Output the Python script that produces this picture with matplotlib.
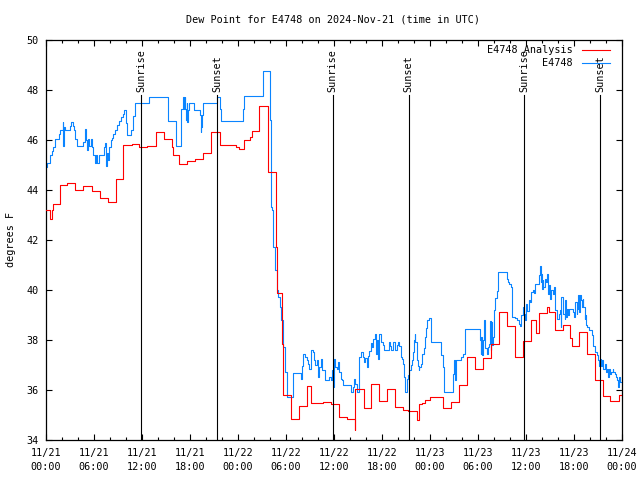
import matplotlib
matplotlib.use("Agg")
import matplotlib.pyplot as plt
from matplotlib.ticker import MultipleLocator

plt.rcParams['font.family'] = ['DejaVu Sans Mono']

# ---- data (hours since 11/21 00:00 UTC, degrees F) ----
red_hours = [0.0, 0.5, 0.75, 0.83, 1.75, 2.58, 3.67, 4.67, 5.71, 6.75, 7.8, 8.75, 9.58,
             10.75, 11.67, 12.58, 13.75, 14.75, 15.75, 15.83, 16.58, 17.67, 18.67, 19.67,
             20.6, 21.7, 23.75, 24.08, 24.75, 25.5, 25.75, 26.67, 27.75, 28.75, 28.83,
             29.54, 29.62, 30.6, 31.58, 32.67, 33.17, 34.67, 35.58, 36.58, 37.67, 38.6,
             38.67, 39.7, 40.67, 41.58, 42.58, 43.58, 44.58, 45.25, 46.33, 46.67, 47.0,
             47.42, 48.0, 49.58, 50.6, 51.67, 52.58, 53.58, 54.58, 55.58, 56.58, 57.67,
             58.67, 59.67, 60.58, 61.25, 61.67, 62.58, 62.92, 63.67, 64.67, 65.5, 65.75,
             66.58, 67.58, 68.58, 69.58, 70.5, 71.6, 72.0]
red_vals = [43.18, 42.81, 43.18, 43.42, 44.17, 44.25, 43.98, 44.14, 43.95, 43.66, 43.50,
            44.41, 45.77, 45.81, 45.69, 45.74, 46.30, 46.02, 45.69, 45.37, 45.02, 45.13,
            45.23, 45.45, 46.30, 45.77, 45.69, 45.61, 45.98, 46.09, 46.35, 47.34, 44.69,
            41.71, 39.89, 37.85, 35.78, 34.82, 35.34, 36.17, 35.47, 35.53, 35.42, 34.91,
            34.83, 34.40, 36.03, 35.29, 36.25, 35.55, 36.03, 35.31, 35.18, 35.15, 34.78,
            35.42, 35.47, 35.58, 35.71, 35.26, 35.50, 36.20, 37.31, 36.83, 37.29, 37.85,
            39.10, 38.57, 37.33, 37.95, 38.81, 38.27, 39.07, 39.31, 39.13, 38.41, 38.58,
            38.09, 37.74, 38.30, 37.42, 36.41, 35.74, 35.57, 35.80, 35.80]

blue_hours = [0.0, 0.17, 0.5, 0.75, 0.92, 1.17, 1.58, 1.75, 2.08, 2.17, 2.25, 2.42, 3.0,
              3.08, 3.33, 3.5, 3.67, 3.92, 4.67, 4.83, 5.0, 5.08, 5.25, 5.42, 5.58, 5.75,
              5.92, 6.08, 6.25, 6.42, 6.58, 7.25, 7.42, 7.5, 7.58, 7.75, 7.83, 7.92, 8.08,
              8.25, 8.42, 8.67, 8.92, 9.08, 9.33, 9.58, 9.75, 10.0, 10.17, 10.67, 10.83,
              10.92, 11.08, 12.92, 15.29, 16.25, 16.92, 17.17, 17.25, 17.33, 17.42, 17.5,
              17.58, 17.67, 17.75, 17.83, 18.5, 19.25, 19.33, 19.42, 19.5, 19.67, 21.33,
              21.75, 21.92, 24.67, 24.75, 27.17, 28.0, 28.17, 28.25, 28.33, 28.42, 28.58,
              28.83, 29.0, 29.25, 29.33, 29.5, 29.58, 29.83, 30.08, 30.83, 30.92, 31.92,
              32.0, 32.17, 32.42, 32.58, 32.75, 32.92, 33.08, 33.33, 33.5, 33.67, 33.83,
              34.0, 34.17, 34.33, 34.5, 34.83, 35.42, 35.58, 35.75, 35.92, 36.0, 36.17,
              36.33, 36.5, 36.67, 36.83, 37.0, 37.17, 38.08, 38.33, 38.5, 38.67, 38.83,
              39.08, 39.17, 39.33, 39.58, 39.75, 39.92, 40.08, 40.25, 40.42, 40.58, 40.75,
              40.92, 41.17, 41.25, 41.42, 41.5, 41.67, 41.92, 42.08, 42.25, 42.83, 43.0,
              43.17, 43.33, 43.58, 43.83, 44.0, 44.17, 44.33, 44.5, 44.67, 44.75, 44.83,
              44.92, 45.08, 45.25, 45.42, 45.58, 45.75, 45.83, 46.0, 46.08, 46.17, 46.33,
              46.42, 46.5, 46.58, 46.67, 46.83, 47.0, 47.25, 47.42, 47.5, 47.67, 47.92,
              48.17, 49.42, 49.58, 49.75, 50.83, 51.0, 51.17, 51.25, 51.92, 52.08, 52.33,
              52.42, 54.25, 54.33, 54.42, 54.5, 54.58, 54.75, 54.92, 55.08, 55.25, 55.42,
              55.5, 55.58, 55.67, 55.75, 55.83, 56.0, 56.17, 56.33, 56.5, 57.58, 57.75,
              57.92, 58.08, 58.25, 58.58, 58.83, 59.08, 59.25, 59.42, 59.58, 59.75, 59.83,
              60.0, 60.17, 60.33, 60.5, 60.67, 60.83, 61.0, 61.17, 61.58, 61.67, 61.75,
              61.83, 61.92, 62.0, 62.08, 62.17, 62.33, 62.5, 62.58, 62.75, 62.83, 63.0,
              63.17, 63.33, 63.5, 63.58, 63.67, 63.83, 64.0, 64.17, 64.25, 64.33, 64.42,
              64.58, 64.67, 64.83, 64.92, 65.0, 65.08, 65.25, 65.42, 65.83, 66.0, 66.08,
              66.17, 66.33, 66.42, 66.5, 66.67, 66.75, 66.92, 67.0, 67.08, 67.17, 67.33,
              67.42, 67.5, 67.67, 67.83, 68.25, 68.42, 68.58, 68.83, 69.0, 69.17, 69.25,
              69.33, 69.5, 69.67, 69.83, 70.0, 70.08, 70.25, 70.42, 70.5, 70.67, 70.83,
              70.92, 71.08, 71.25, 71.42, 71.5, 71.67, 71.75, 72.0]
blue_vals = [44.91, 45.07, 45.38, 45.54, 45.71, 46.02, 46.21, 46.38, 46.70, 45.74, 46.51,
             46.38, 46.54, 46.70, 46.54, 46.38, 46.03, 45.74, 45.90, 46.41, 45.98, 45.58,
             46.03, 45.74, 46.03, 45.71, 45.38, 45.05, 45.37, 45.05, 45.37, 45.71, 45.85,
             44.94, 45.45, 45.18, 45.37, 45.71, 45.98, 46.06, 46.22, 46.38, 46.57, 46.73,
             46.91, 47.02, 47.18, 46.65, 46.17, 46.38, 46.49, 46.94, 47.47, 47.71, 46.75,
             45.74, 47.23, 47.71, 47.23, 47.71, 47.23, 46.78, 47.45, 46.70, 47.18, 47.45,
             47.18, 46.97, 46.30, 46.49, 46.97, 47.47, 47.71, 47.23, 46.75, 47.22, 47.74,
             48.73, 46.78, 43.31, 43.18, 42.71, 41.71, 40.78, 40.01, 39.71, 39.31, 38.78,
             38.78, 37.71, 36.71, 35.71, 36.25, 36.67, 36.45, 36.94, 37.45, 37.31, 37.18,
             37.05, 36.85, 37.61, 37.51, 37.18, 36.98, 37.18, 36.51, 36.91, 37.25, 36.78,
             36.38, 36.51, 36.38, 36.78, 36.11, 37.25, 36.91, 36.85, 37.11, 36.71, 36.45,
             36.38, 36.18, 35.91, 36.11, 36.45, 36.25, 35.91, 36.11, 37.31, 37.50, 37.31,
             37.11, 37.29, 36.91, 37.34, 37.55, 37.87, 37.71, 38.05, 38.25, 37.45, 37.98,
             37.23, 38.25, 37.91, 37.78, 37.61, 37.93, 37.77, 37.61, 37.93, 37.61, 37.78,
             37.93, 37.77, 37.31, 37.23, 37.05, 36.51, 36.11, 35.91, 36.45, 36.58, 36.81,
             36.98, 37.18, 37.51, 37.98, 38.25, 37.91, 37.58, 37.18, 36.94, 36.78, 36.91,
             37.05, 37.45, 37.69, 38.11, 38.49, 38.78, 38.89, 37.90, 37.39, 36.91, 35.90,
             36.65, 37.18, 36.38, 37.18, 37.31, 37.45, 37.98, 38.45, 37.98, 37.45, 38.11,
             37.38, 37.98, 38.78, 37.69, 37.45, 37.71, 37.85, 38.75, 37.58, 38.71, 37.78,
             38.11, 39.21, 39.69, 39.95, 40.73, 40.45, 40.33, 40.22, 40.11, 38.91, 38.89,
             38.78, 38.65, 38.54, 38.98, 39.31, 39.05, 38.81, 39.45, 39.15, 39.61, 39.51,
             39.91, 39.98, 39.87, 40.25, 40.22, 40.58, 40.94, 40.31, 40.65, 40.05, 40.38,
             40.11, 40.45, 40.31, 40.65, 39.85, 40.18, 39.65, 39.98, 39.85, 40.11, 39.58,
             39.18, 38.85, 38.83, 39.05, 39.18, 38.51, 39.71, 39.45, 39.05, 38.85, 39.58,
             38.91, 39.25, 38.98, 39.25, 39.11, 38.91, 39.38, 39.51, 39.05, 39.25, 39.78,
             39.11, 39.78, 39.58, 39.31, 39.65, 39.31, 38.85, 38.98, 38.58, 38.51, 38.38,
             38.18, 37.74, 37.51, 37.38, 37.18, 36.94, 37.25, 36.94, 37.18, 36.85, 37.05,
             36.71, 36.85, 36.51, 36.85, 36.65, 36.71, 36.85, 36.71, 36.65, 36.51, 36.38,
             36.11, 36.51, 36.30, 36.30]

sun_hours = [11.87, 21.37, 35.85, 45.33, 59.8, 69.3]
sun_labels = ["Sunrise", "Sunset", "Sunrise", "Sunset", "Sunrise", "Sunset"]

xtick_hours = [0, 6, 12, 18, 24, 30, 36, 42, 48, 54, 60, 66, 72]
xtick_labels = ["11/21\n00:00", "11/21\n06:00", "11/21\n12:00", "11/21\n18:00",
                "11/22\n00:00", "11/22\n06:00", "11/22\n12:00", "11/22\n18:00",
                "11/23\n00:00", "11/23\n06:00", "11/23\n12:00", "11/23\n18:00",
                "11/24\n00:00"]
yticks = [34, 36, 38, 40, 42, 44, 46, 48, 50]

title = "Dew Point for E4748 on 2024-Nov-21 (time in UTC)"
series_names = ["E4748 Analysis", "E4748"]
red_color = "#ff0000"
blue_color = "#0a84ff"
fs = 7.3
lw = 0.8

fig = plt.figure(figsize=(6.4, 4.8), dpi=100)
ax = fig.add_axes([46/640, 40/480, 576/640, 400.5/480])

ax.step(red_hours, red_vals, where='post', color=red_color, lw=lw, zorder=3)
ax.step(blue_hours, blue_vals, where='post', color=blue_color, lw=lw, zorder=2)

ax.set_xlim(0, 72)
ax.set_ylim(34, 50)

for h, lab in zip(sun_hours, sun_labels):
    ax.plot([h, h], [34, 47.78], color='black', lw=lw, zorder=4)
    ax.text(h, 47.92, lab, rotation=90, ha='center', va='bottom', fontsize=fs, zorder=5)

ax.set_xticks(xtick_hours)
ax.set_xticklabels(xtick_labels, fontsize=fs, linespacing=1.6)
ax.xaxis.set_minor_locator(MultipleLocator(2))
ax.set_yticks(yticks)
ax.set_yticklabels([str(v) for v in yticks], fontsize=fs)

ax.tick_params(axis='both', which='major', direction='in', length=4, width=0.8,
               top=True, right=True, pad=5)
ax.tick_params(axis='x', which='minor', direction='in', length=2.2, width=0.8,
               top=True, bottom=True)
ax.tick_params(axis='x', which='major', pad=5.5)
for s in ax.spines.values():
    s.set_linewidth(0.9)

ax.set_ylabel("degrees F", fontsize=fs)
ax.yaxis.set_label_coords(-30/576, 0.5)

fig.text(333/640, 1 - 19/480, title, ha='center', va='center', fontsize=fs)

# legend drawn gnuplot-style in the top-right corner
leg_y = [50, 63]
for name, col, yy in zip(series_names, [red_color, blue_color], leg_y):
    fig.text(573/640, 1 - yy/480, name, ha='right', va='center', fontsize=fs)
    fig.add_artist(plt.Line2D([582/640, 610/640], [1 - yy/480, 1 - yy/480],
                              color=col, lw=lw, transform=fig.transFigure))

fig.savefig("out.png", dpi=100)
